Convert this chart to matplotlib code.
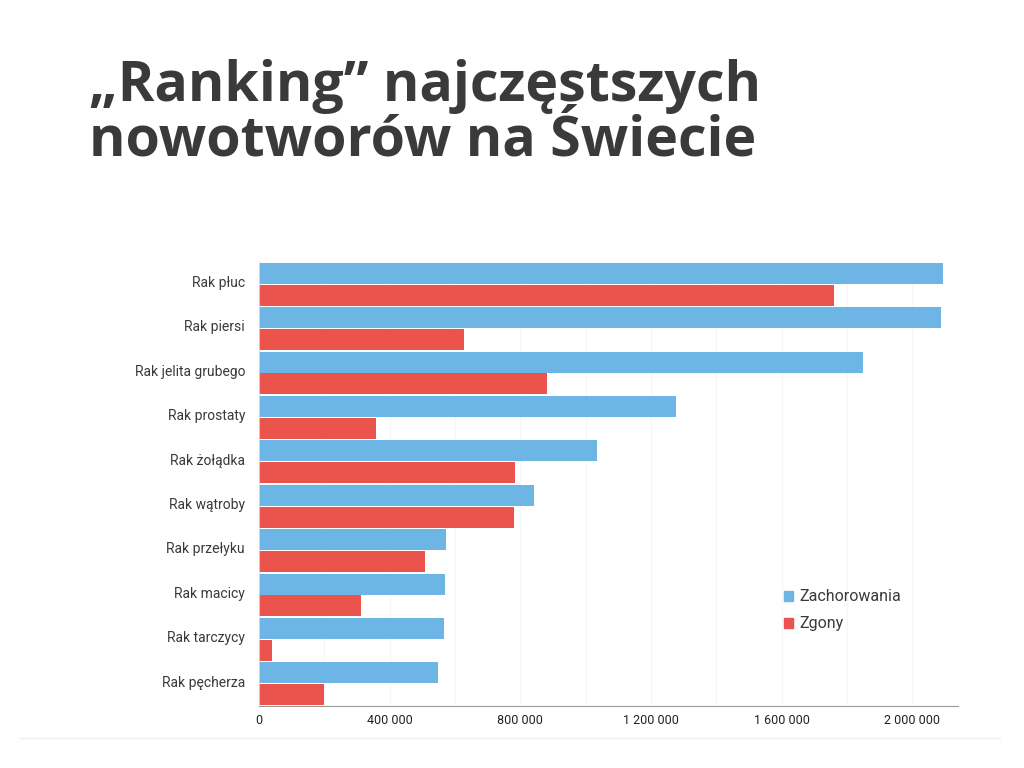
import matplotlib.pyplot as plt
import numpy as np
from matplotlib.lines import Line2D
from matplotlib.patches import Patch

# dane GLOBOCAN
nowotwory = ["Rak płuc", "Rak piersi", "Rak jelita grubego", "Rak prostaty", "Rak żołądka",
             "Rak wątroby", "Rak przełyku", "Rak macicy", "Rak tarczycy", "Rak pęcherza"]
zachorowania = [2093876, 2088849, 1849518, 1276106, 1033701, 841080, 572034, 569847, 567233, 549393]
zgony = [1761007, 626679, 880792, 358989, 782685, 781631, 508585, 311365, 41071, 199922]
xticks = [0, 400000, 800000, 1200000, 1600000, 2000000]
xtick_labels = ["0", "400 000", "800 000", "1 200 000", "1 600 000", "2 000 000"]

blue = "#6cb5e5"
red = "#eb534d"

fig = plt.figure(figsize=(10.24, 7.68), dpi=100)
fig.patch.set_facecolor("white")

fig.text(89/1024, 1 - 59/768, "„Ranking” najczęstszych\nnowotworów na Świecie",
         fontsize=40, fontweight="bold", family="Open Sans", color="#3a3a3a",
         va="top", ha="left", linespacing=1.0)

ax = fig.add_axes([259/1024, 1 - 706/768, (958-259)/1024, 444/768])
y = np.arange(len(nowotwory))
ax.barh(y - 0.245, zachorowania, height=0.47, color=blue, zorder=2)
ax.barh(y + 0.245, zgony, height=0.47, color=red, zorder=2)

ax.set_ylim(len(nowotwory) - 0.5, -0.5)
ax.set_xlim(0, 2140000)
ax.set_yticks(y - 0.06)
ax.set_yticklabels(nowotwory, family="Roboto", fontsize=10, color="#3a3a3a")
ax.set_xticks(xticks)
ax.set_xticklabels(xtick_labels, family="Roboto", fontsize=9, color="#222222")
ax.set_xticks(np.arange(200000, 2140000, 400000), minor=True)
ax.grid(axis="x", which="both", color="#f6f6f6", linewidth=0.8, zorder=0)
ax.tick_params(axis="y", length=0, pad=10)
ax.tick_params(axis="x", which="both", length=0, pad=6)
for s in ["top", "right"]:
    ax.spines[s].set_visible(False)
ax.spines["bottom"].set_color("#999999")
ax.spines["left"].set_color("#dddddd")
ax.spines["left"].set_linewidth(0.6)

handles = [Patch(color=blue, label="Zachorowania"), Patch(color=red, label="Zgony")]
ax.legend(handles=handles, loc="upper left", bbox_to_anchor=((770-259)/699, (706-575)/444),
          frameon=False, prop={"family": "Roboto", "size": 11.5},
          handlelength=0.55, handleheight=0.55, handletextpad=0.4, labelspacing=0.75,
          labelcolor="#3a3a3a")

fig.add_artist(Line2D([20/1024, 1000/1024], [1 - 738/768, 1 - 738/768],
                      color="#eeeeee", linewidth=1))

plt.savefig("out.png", dpi=100)
